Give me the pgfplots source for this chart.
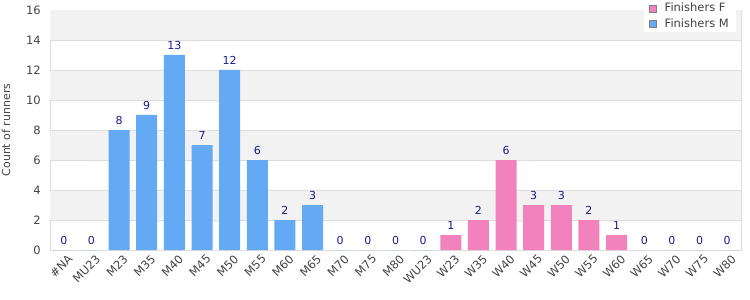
\documentclass[border=0pt]{standalone}
\usepackage{pgfplots}
\pgfplotsset{compat=1.18}
\usepackage{fontspec}
\setmainfont{DejaVu Sans}
\definecolor{barM}{RGB}{99,169,243}
\definecolor{barF}{RGB}{242,130,187}
\definecolor{lbl}{RGB}{26,26,140}
\definecolor{tickc}{RGB}{68,68,68}
\definecolor{band}{RGB}{242,242,242}
\definecolor{gridc}{RGB}{221,221,221}
\begin{document}
\begin{tikzpicture}
\path[use as bounding box] (-50pt,-50pt) rectangle (700pt,250pt);
\begin{axis}[
  at={(0pt,0pt)}, anchor=south west,
  scale only axis, width=691pt, height=240pt,
  xmin=-0.5, xmax=24.5, ymin=0, ymax=16,
  ytick={0,2,...,16},
  xtick={0,...,24},
  xticklabels={\#NA,MU23,M23,M35,M40,M45,M50,M55,M60,M65,M70,M75,M80,WU23,W23,W35,W40,W45,W50,W55,W60,W65,W70,W75,W80},
  /pgf/number format/assume math mode=true,
  major tick length=0pt,
  axis line style={gridc, line width=0.8pt},
  tick label style={text=tickc, font=\fontsize{11.5}{13}\selectfont},
  xticklabel style={rotate=45, anchor=north east, inner sep=1pt, yshift=-4pt, xshift=1pt},
  yticklabel style={inner sep=0pt, xshift=-9pt},
  ylabel={Count of runners},
  ylabel style={at={(axis description cs:-0.0637,0.5)}, anchor=center, text=tickc, font=\fontsize{11}{13}\selectfont},
  nodes near coords,
  every node near coord/.append style={font=\fontsize{11}{12}\selectfont, text=lbl, yshift=1.5pt},
  reverse legend,
  legend style={at={(rel axis cs:0.9928,1.0417)}, anchor=north east, draw=none, fill=white, font=\fontsize{11.5}{13}\selectfont, text=tickc, inner xsep=5pt, inner ysep=1pt, row sep=1.5pt, /tikz/every odd column/.append style={column sep=6pt}},
  legend cell align=left,
]
\fill[band] (axis cs:-0.5,2) rectangle (axis cs:24.5,4);
\fill[band] (axis cs:-0.5,6) rectangle (axis cs:24.5,8);
\fill[band] (axis cs:-0.5,10) rectangle (axis cs:24.5,12);
\fill[band] (axis cs:-0.5,14) rectangle (axis cs:24.5,16);
\foreach \k in {2,4,...,14} {
  \edef\temp{\noexpand\draw[gridc, line width=0.8pt] (axis cs:-0.5,\k) -- (axis cs:24.5,\k);}
  \temp
}
\addplot[ybar, bar width=21pt, bar shift=0pt, fill=barM, draw=none,
  legend image code/.code={\draw[fill=barM, draw=gray] (0pt,-3.5pt) rectangle (7pt,3.5pt);}]
  coordinates {(0,0)(1,0)(2,8)(3,9)(4,13)(5,7)(6,12)(7,6)(8,2)(9,3)(10,0)(11,0)(12,0)(13,0)};
\addlegendentry{Finishers M}
\addplot[ybar, bar width=21pt, bar shift=0pt, fill=barF, draw=none,
  legend image code/.code={\draw[fill=barF, draw=gray] (0pt,-3.5pt) rectangle (7pt,3.5pt);}]
  coordinates {(14,1)(15,2)(16,6)(17,3)(18,3)(19,2)(20,1)(21,0)(22,0)(23,0)(24,0)};
\addlegendentry{Finishers F}
\end{axis}
\end{tikzpicture}
\end{document}
